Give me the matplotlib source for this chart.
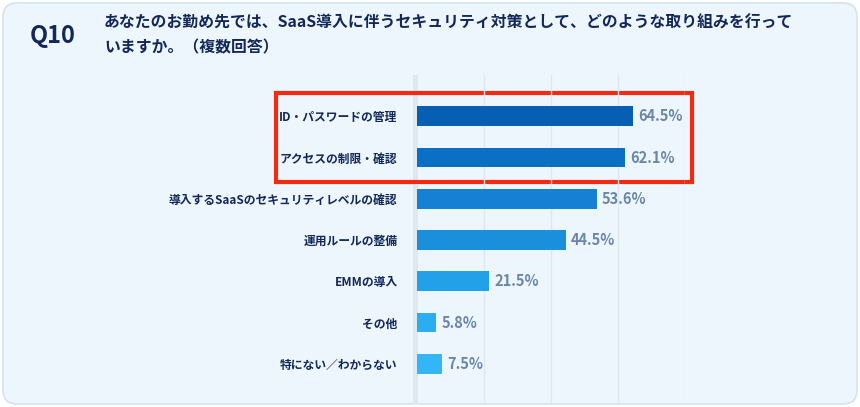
import matplotlib
matplotlib.use('Agg')
import matplotlib.pyplot as plt
from matplotlib.patches import FancyBboxPatch, Rectangle
import numpy as np

plt.rcParams['font.family'] = ['Noto Sans CJK JP', 'DejaVu Sans']

categories = ['ID・パスワードの管理', 'アクセスの制限・確認', '導入するSaaSのセキュリティレベルの確認',
              '運用ルールの整備', 'EMMの導入', 'その他', '特にない／わからない']
values = [64.5, 62.1, 53.6, 44.5, 21.5, 5.8, 7.5]
bar_colors = ['#0560b4', '#0b6fc4', '#1680d4', '#1c8fdc', '#22a0e8', '#2aaef0', '#33b6f7']
grid_ticks = [20, 40, 60, 80]

W, H = 860, 407
fig = plt.figure(figsize=(W / 100, H / 100), dpi=100)
fig.patch.set_facecolor('white')

# card background
bg = fig.add_axes([0, 0, 1, 1])
bg.set_xlim(0, W); bg.set_ylim(H, 0); bg.axis('off')
bg.add_patch(FancyBboxPatch((3, 3), W - 6, H - 6, boxstyle='round,pad=0,rounding_size=14',
                            fc='#eef6fd', ec='#d3e3f1', lw=1.2))
bg.text(30, 36, 'Q10', fontsize=17, fontweight='bold', color='#13285a', va='center')
bg.text(104, 23, 'あなたのお勤め先では、SaaS導入に伴うセキュリティ対策として、どのような取り組みを行って',
        fontsize=11.4, fontweight='bold', color='#13285a', va='center')
bg.text(104, 47, 'いますか。（複数回答）', fontsize=11.4, fontweight='bold', color='#13285a', va='center')
# subtle shadow band at axis
bg.add_patch(Rectangle((413, 75), 5, 330, fc='#dde8f2', ec='none'))

# chart axes: x 0..80 maps to 417..685 px
ax = fig.add_axes([417 / W, 4 / H, 268 / W, 328 / H])
ax.patch.set_alpha(0)
n = len(categories)
y = np.arange(n)
ax.barh(y, values, color=bar_colors, height=0.48, zorder=3)
ax.set_xlim(0, 80)
ax.set_ylim(n - 0.05, -1.0)
for g in grid_ticks:
    ax.axvline(g, color='#dce8f4', lw=1, zorder=1)
for s in ax.spines.values():
    s.set_visible(False)
ax.set_xticks([])
ax.set_yticks(y)
ax.set_yticklabels(categories, fontsize=8.5, fontweight='bold', color='#13285a')
ax.tick_params(axis='y', length=0, pad=14)
for yi, v in zip(y, values):
    ax.text(v + 1.5, yi, f'{v}%', va='center', ha='left', fontsize=10.5,
            fontweight='bold', color='#6a86a8')

# red highlight box
bg.add_patch(Rectangle((276, 93), 416, 89, fill=False, ec='#f22a12', lw=3, zorder=10))

fig.savefig('out.png', dpi=100, facecolor='white')
